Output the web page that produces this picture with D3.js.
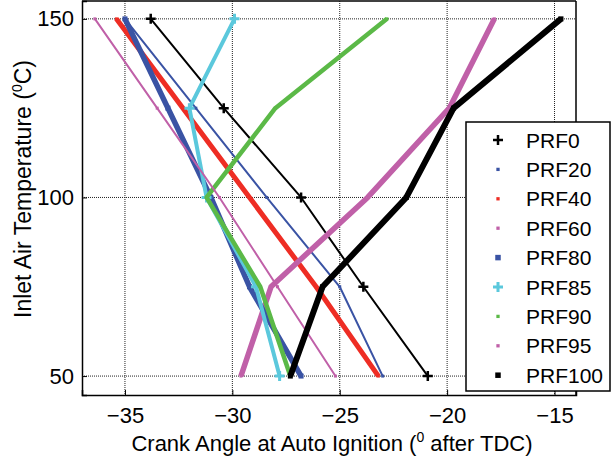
<!DOCTYPE html>
<head>
  <meta charset="utf-8">
  <script src="https://cdnjs.cloudflare.com/ajax/libs/d3/7.8.5/d3.min.js"></script>
  <style>
    body { margin:0; background:#fff; }
    text { font-family: "Liberation Sans", Arial, sans-serif; fill:#000; }
  </style>
</head>
<body>
  <div id="vis"></div>
  <script>
    // inlet air temperature (deg C) for every series
    var temps = [50, 75, 100, 125, 150];

    // crank angle at auto ignition
    var prf0   = [-20.9, -23.9, -26.8, -30.4, -33.8];
    var prf20  = [-23.0, -25.0, -28.4, -31.7, -35.0];
    var prf40  = [-23.2, -26.1, -29.2, -32.3, -35.4];
    var prf60  = [-29.6, -28.2, -23.7, -19.9, -17.8];
    var prf80  = [-26.8, -29.2, -31.0, -33.0, -35.0];
    var prf85  = [-27.8, -28.9, -31.2, -32.0, -29.9];
    var prf90  = [-27.3, -28.7, -31.2, -28.0, -22.8];
    var prf95  = [-25.2, -27.9, -30.6, -33.5, -36.4];
    var prf100 = [-27.3, -25.8, -21.9, -19.7, -14.7];

    var names = ["PRF0", "PRF20", "PRF40", "PRF60", "PRF80", "PRF85", "PRF90", "PRF95", "PRF100"];
    var xTicks = [-35, -30, -25, -20, -15];
    var yTicks = [50, 100, 150];

    var series = [
      {name: names[0], vals: prf0,   color: "#000000", w: 2,   mark: "plus", ms: 5},
      {name: names[1], vals: prf20,  color: "#3a53a4", w: 2,   mark: "sq",   ms: 1.5},
      {name: names[2], vals: prf40,  color: "#ee2d24", w: 5,   mark: "sq",   ms: 1.5},
      {name: names[3], vals: prf60,  color: "#c060a8", w: 5.5, mark: "sq",   ms: 1.5},
      {name: names[4], vals: prf80,  color: "#3a53a4", w: 5.5, mark: "sq",   ms: 2.5},
      {name: names[5], vals: prf85,  color: "#5bc8dc", w: 4,   mark: "plus", ms: 5},
      {name: names[6], vals: prf90,  color: "#5bb947", w: 4.5, mark: "sq",   ms: 1.5},
      {name: names[7], vals: prf95,  color: "#c060a8", w: 2,   mark: "sq",   ms: 1.5},
      {name: names[8], vals: prf100, color: "#000000", w: 6,   mark: "sq",   ms: 2.5}
    ];

    var width = 612, height = 459;
    var pl = 82, pr = 576, pt = 1, pb = 395;

    var svg = d3.select("#vis").append("svg")
      .attr("width", width)
      .attr("height", height);

    var x = d3.scaleLinear().domain([-37, -14]).range([pl, pr]);
    var y = d3.scaleLinear().domain([44.7, 155]).range([pb, pt]);

    // dotted grid
    svg.append("g").selectAll("line").data(xTicks).enter().append("line")
      .attr("x1", function(d) { return x(d); }).attr("x2", function(d) { return x(d); })
      .attr("y1", pt).attr("y2", pb)
      .style("stroke", "#222").style("stroke-width", 1).style("stroke-dasharray", "1,1");
    svg.append("g").selectAll("line").data(yTicks).enter().append("line")
      .attr("x1", pl).attr("x2", pr)
      .attr("y1", function(d) { return y(d); }).attr("y2", function(d) { return y(d); })
      .style("stroke", "#222").style("stroke-width", 1).style("stroke-dasharray", "1,1");

    // axes (ticks inside, matlab style)
    var xAxis = svg.append("g").attr("transform", "translate(0," + pb + ")")
      .call(d3.axisBottom(x).tickValues(xTicks).tickSize(-5).tickPadding(12));
    var yAxis = svg.append("g").attr("transform", "translate(" + pl + ",0)")
      .call(d3.axisLeft(y).tickValues(yTicks).tickSize(-5).tickPadding(8));
    [xAxis, yAxis].forEach(function(g) {
      g.select(".domain").style("stroke", "#000").style("stroke-width", 1.5);
      g.selectAll(".tick line").style("stroke", "#000");
      g.selectAll(".tick text").style("font-size", "22px").style("font-family", "Liberation Sans, Arial, sans-serif");
    });
    // top and right border
    svg.append("line").attr("x1", pl).attr("x2", pr).attr("y1", pt).attr("y2", pt)
      .style("stroke", "#000").style("stroke-width", 1.5);
    svg.append("line").attr("x1", pr).attr("x2", pr).attr("y1", pt).attr("y2", pb)
      .style("stroke", "#000").style("stroke-width", 1.5);

    var line = d3.line()
      .x(function(d) { return x(d[0]); })
      .y(function(d) { return y(d[1]); });

    function drawMark(g, s, cx, cy, scale) {
      var m = s.ms * (scale || 1);
      if (s.mark == "plus") {
        g.append("path")
          .attr("d", "M" + (cx - m) + "," + cy + "H" + (cx + m) + "M" + cx + "," + (cy - m) + "V" + (cy + m))
          .style("stroke", s.color).style("stroke-width", s.name == "PRF85" ? 3 : 2.5).style("fill", "none");
      } else {
        g.append("rect").attr("x", cx - m).attr("y", cy - m)
          .attr("width", 2 * m).attr("height", 2 * m).style("fill", s.color);
      }
    }

    series.forEach(function(s) {
      var pts = s.vals.map(function(v, i) { return [v, temps[i]]; });
      svg.append("path").datum(pts)
        .attr("d", line)
        .style("fill", "none")
        .style("stroke", s.color)
        .style("stroke-width", s.w)
        .style("stroke-linejoin", "round");
      var g = svg.append("g");
      pts.forEach(function(p) { drawMark(g, s, x(p[0]), y(p[1])); });
    });

    // legend
    var lg = svg.append("g").attr("transform", "translate(466,122)");
    lg.append("rect").attr("width", 144).attr("height", 269)
      .style("fill", "#fff").style("stroke", "#000").style("stroke-width", 1.5);
    series.forEach(function(s, i) {
      var cy = 18 + i * 29.4;
      drawMark(lg, s, 32, cy, s.mark == "plus" ? 1 : 1.1);
      lg.append("text").attr("x", 60).attr("y", cy + 7.5)
        .style("font-size", "21px").text(s.name);
    });

    // axis titles
    var xt = svg.append("text").attr("x", 332).attr("y", 451)
      .attr("text-anchor", "middle").style("font-size", "22px");
    xt.append("tspan").text("Crank Angle at Auto Ignition (");
    xt.append("tspan").attr("dy", -9).style("font-size", "14px").text("0");
    xt.append("tspan").attr("dy", 9).text(" after TDC)");

    var yt = svg.append("text").attr("transform", "translate(31,189) rotate(-90)")
      .attr("text-anchor", "middle").style("font-size", "23px");
    yt.append("tspan").text("Inlet Air Temperature (");
    yt.append("tspan").attr("dy", -9).style("font-size", "14px").text("0");
    yt.append("tspan").attr("dy", 9).text("C)");
  </script>
</body>
